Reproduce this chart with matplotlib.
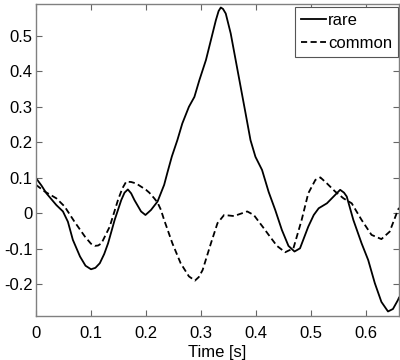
import matplotlib
matplotlib.use('Agg')
import matplotlib.pyplot as plt

# values
t_rare = [0.000, 0.010, 0.019, 0.037, 0.049, 0.058, 0.067, 0.080, 0.090, 0.100,
          0.108, 0.116, 0.124, 0.131, 0.143, 0.155, 0.161, 0.167, 0.173, 0.179,
          0.191, 0.199, 0.209, 0.221, 0.233, 0.239, 0.247, 0.257, 0.266, 0.278,
          0.288, 0.297, 0.309, 0.318, 0.327, 0.332, 0.336, 0.340, 0.345, 0.354,
          0.363, 0.372, 0.381, 0.390, 0.399, 0.411, 0.423, 0.435, 0.447, 0.459,
          0.470, 0.480, 0.495, 0.505, 0.514, 0.529, 0.541, 0.553, 0.560, 0.565,
          0.577, 0.592, 0.604, 0.616, 0.628, 0.640, 0.649, 0.658, 0.660]
rare = [0.099, 0.078, 0.056, 0.023, 0.005, -0.024, -0.075, -0.122, -0.148, -0.158,
        -0.154, -0.141, -0.115, -0.085, -0.019, 0.037, 0.058, 0.067, 0.056, 0.037,
        0.005, -0.005, 0.009, 0.033, 0.080, 0.115, 0.160, 0.206, 0.253, 0.300,
        0.328, 0.375, 0.432, 0.488, 0.544, 0.570, 0.580, 0.576, 0.563, 0.507,
        0.432, 0.357, 0.282, 0.206, 0.159, 0.122, 0.060, 0.009, -0.047, -0.092,
        -0.108, -0.099, -0.038, -0.005, 0.014, 0.028, 0.047, 0.066, 0.058, 0.047,
        -0.019, -0.085, -0.132, -0.197, -0.250, -0.277, -0.270, -0.245, -0.238]

t_common = [0.000, 0.016, 0.037, 0.052, 0.070, 0.089, 0.100, 0.107, 0.113, 0.119,
            0.134, 0.149, 0.157, 0.164, 0.173, 0.182, 0.200, 0.206, 0.215, 0.221,
            0.227, 0.233, 0.248, 0.263, 0.278, 0.289, 0.296, 0.303, 0.318, 0.330,
            0.342, 0.360, 0.384, 0.396, 0.414, 0.423, 0.438, 0.453, 0.468, 0.483,
            0.495, 0.508, 0.517, 0.529, 0.544, 0.559, 0.574, 0.592, 0.610, 0.628,
            0.643, 0.658, 0.660]
common = [0.080, 0.061, 0.042, 0.019, -0.024, -0.066, -0.086, -0.092, -0.091, -0.085,
          -0.038, 0.037, 0.070, 0.089, 0.088, 0.084, 0.066, 0.058, 0.042, 0.030,
          0.010, -0.019, -0.085, -0.141, -0.178, -0.190, -0.180, -0.160, -0.085, -0.028,
          -0.005, -0.008, 0.005, -0.005, -0.042, -0.061, -0.092, -0.110, -0.099, -0.019,
          0.056, 0.094, 0.101, 0.084, 0.061, 0.042, 0.028, -0.019, -0.061, -0.073,
          -0.052, 0.009, 0.015]

xticks = [0, 0.1, 0.2, 0.3, 0.4, 0.5, 0.6]
yticks = [-0.2, -0.1, 0, 0.1, 0.2, 0.3, 0.4, 0.5]

plt.rcParams['font.family'] = ['Liberation Sans', 'DejaVu Sans']

fig = plt.figure(figsize=(4, 3.6), dpi=100)
ax = fig.add_axes([0.09, 0.122, 0.9075, 0.867])

ax.plot(t_rare, rare, color='black', lw=1.3, label='rare')
ax.plot(t_common, common, color='black', lw=1.3, ls=(0, (3.4, 1.9)), label='common')

ax.set_xlim(0, 0.66)
ax.set_ylim(-0.29, 0.59)
ax.set_xticks(xticks)
ax.set_xticklabels(['0' if v == 0 else str(v) for v in xticks])
ax.set_yticks(yticks)
ax.set_yticklabels(['0' if v == 0 else str(v) for v in yticks])
ax.tick_params(direction='in', top=True, right=True, length=4, width=0.8,
               color='#666666', labelsize=12)
ax.tick_params(axis='x', pad=7)
ax.tick_params(axis='y', pad=2.5)
for s in ax.spines.values():
    s.set_color('#808080')
    s.set_linewidth(1.0)
ax.set_xlabel('Time [s]', fontsize=12, labelpad=3)

leg = ax.legend(loc='upper right', bbox_to_anchor=(0.997, 0.99), fontsize=12,
                handlelength=1.5, handletextpad=0.1, borderpad=0.35,
                labelspacing=0.5, fancybox=False, framealpha=1, borderaxespad=0)
leg.get_frame().set_edgecolor('#555555')
leg.get_frame().set_linewidth(0.8)

plt.savefig('out.png', dpi=100)
